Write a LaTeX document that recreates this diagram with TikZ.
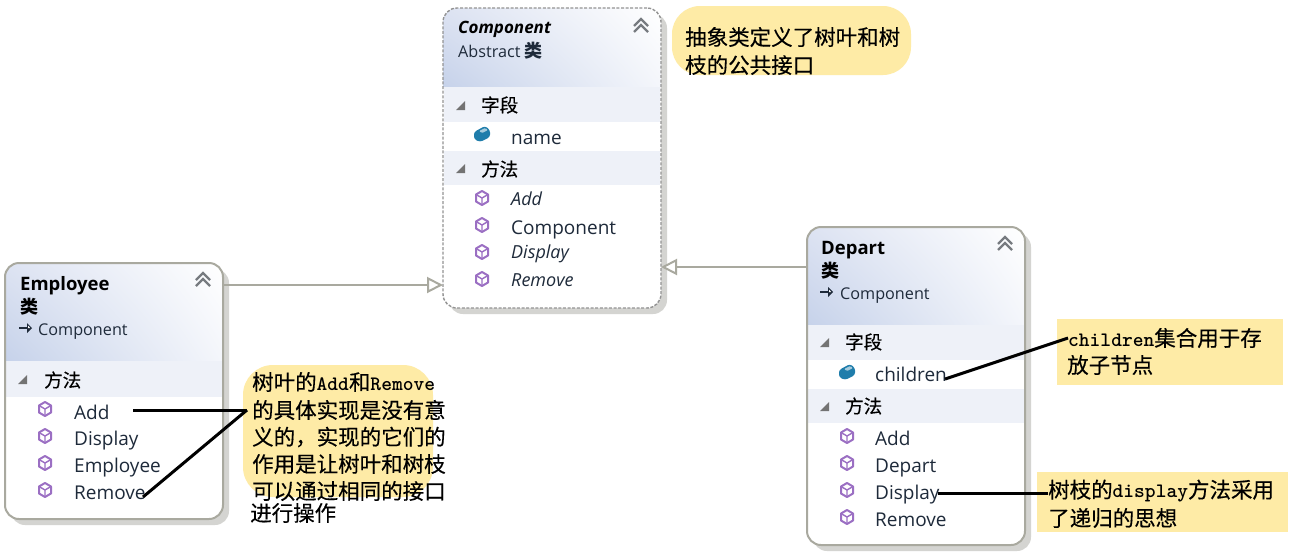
\documentclass[tikz,border=0pt]{standalone}
\usepackage{fontspec}
\setmainfont{Open Sans}
\newfontfamily\cjk{Noto Sans CJK SC}[FakeBold=0.35]
\newfontfamily\cjkm{Noto Sans CJK SC}
\newcommand\monob{\ttfamily\bfseries\fontsize{20.5}{24}\selectfont}
\usetikzlibrary{arrows.meta,calc,shadings}
\definecolor{borderc}{HTML}{A9A99F}
\definecolor{shadowc}{HTML}{D4D4D1}
\definecolor{hdrdark}{HTML}{C6D2EA}
\definecolor{hdrleft}{HTML}{DDE3F2}
\definecolor{hdrright}{HTML}{F4F6FB}
\definecolor{bandc}{HTML}{EEF1F8}
\definecolor{notec}{HTML}{FEEBA6}
\definecolor{textc}{HTML}{1E2A3A}
\definecolor{cubec}{HTML}{9B6FC3}
\definecolor{fieldc}{HTML}{1F7DAB}
\definecolor{chevc}{HTML}{777B80}
\tikzset{
  x=1pt,y=-1pt,
  boxnode/.style={anchor=north west,inner sep=0pt,outer sep=0pt,rounded corners=14pt},
  solidbox/.style={boxnode,draw=borderc,line width=2pt},
  dashbox/.style={boxnode,draw=gray!85,line width=1.4pt,dash pattern=on 3pt off 1.6pt},
  member/.style={anchor=base west,inner sep=0pt,font=\fontsize{19}{20}\selectfont,text=textc},
  imember/.style={member,font=\fontsize{18}{20}\selectfont\itshape},
  title/.style={anchor=base west,inner sep=0pt,font=\fontsize{18.5}{20}\selectfont\bfseries,text=black},
  ititle/.style={anchor=base west,inner sep=0pt,font=\fontsize{17}{20}\selectfont\bfseries\itshape,text=black},
  subtitle/.style={anchor=base west,inner sep=0pt,font=\fontsize{16.2}{18}\selectfont,text=textc},
  kindtxt/.style={anchor=base west,inner sep=0pt,font=\fontsize{18}{18}\selectfont\cjkm\bfseries,text=black},
  section/.style={anchor=west,inner sep=0pt,font=\fontsize{18.5}{20}\selectfont\cjk,text=black},
  notetxt/.style={anchor=west,inner sep=0pt,font=\fontsize{21.5}{24}\selectfont\cjk,text=black},
  inherit/.style={draw=borderc,line width=2.2pt,-{Triangle[open,fill=white,length=16pt,width=16pt,line width=2pt]}},
  pointer/.style={draw=black,line width=3pt},
  noteblob/.style={anchor=north west,inner sep=0pt,outer sep=0pt,fill=notec,rounded corners=28pt},
  noterect/.style={anchor=north west,inner sep=0pt,outer sep=0pt,fill=notec},
}
% #1 x, #2 y, #3 w, #4 h, #5 header bottom
\newcommand\boxback[5]{%
  \fill[shadowc,rounded corners=14pt] (#1+6,#2+6) rectangle (#1+#3+6,#2+#4+6);
  \fill[white,rounded corners=14pt] (#1,#2) rectangle (#1+#3,#2+#4);
  \shade[lower left=hdrdark,lower right=hdrright,upper left=hdrleft,upper right=white]
    (#1,#5) [rounded corners=14pt] -- (#1,#2) -- (#1+#3,#2) [sharp corners] -- (#1+#3,#5) -- cycle;
}
\newcommand\band[4]{\fill[bandc] (#1+1,#3) rectangle (#1+#2-1,#4);}
\newcommand\cubeicon[2]{%
  \begin{scope}[shift={(#1,#2)},draw=cubec,line width=2pt,line join=round]
    \draw (0,-7) -- (6,-3.5) -- (6,3.5) -- (0,7) -- (-6,3.5) -- (-6,-3.5) -- cycle;
    \draw[line width=1.4pt] (-6,-3.5) -- (0,0) -- (6,-3.5) (0,0) -- (0,7);
  \end{scope}}
\newcommand\fieldicon[2]{%
  \begin{scope}[shift={(#1,#2)}]
    \fill[fieldc,rounded corners=2.5pt] (-8,-2) -- (3,-8) -- (8,-4) -- (8,3) -- (-2,8) -- (-8,5) -- cycle;
    \fill[fieldc!40!white,rounded corners=1pt] (-3,-3) -- (3,-6) -- (6,-4) -- (0,-1) -- cycle;
  \end{scope}}
\newcommand\secmark[2]{\fill[gray!90!black] (#1+4,#2-5) -- (#1+4,#2+4) -- (#1-5,#2+4) -- cycle;}
\newcommand\chevrons[2]{%
  \begin{scope}[shift={(#1,#2)},draw=chevc,line width=2.4pt,line join=miter]
    \draw (-7,0) -- (0,-7) -- (7,0);
    \draw (-7,6) -- (0,-1) -- (7,6);
  \end{scope}}
\newcommand\inhmark[2]{%
  \begin{scope}[shift={(#1,#2)}]
    \draw[textc,line width=1.1pt] (-7,0) -- (5,0);
    \fill[textc] (1,-5) -- (6,0) -- (1,5) -- cycle;
    \fill[white] (2,-2.4) -- (4.2,0) -- (2,0) -- cycle;
  \end{scope}}
\begin{document}
\begin{tikzpicture}
\useasboundingbox (0,0) rectangle (1296,552);
\fill[white] (0,0) rectangle (1296,552);
\coordinate (linkE) at (0,285);
\coordinate (linkD) at (0,267);

%% Component
\boxback{443}{8}{218}{300}{87}
\band{443}{218}{87}{122}
\band{443}{218}{151}{185}
\node[dashbox,minimum width=218pt,minimum height=300pt] (component) at (443,8) {};
\node[ititle] (ctitle) at (458,33) {Component};
\node[subtitle] (ckind) at (458,57) {Abstract {\fontsize{18}{18}\selectfont\cjkm\bfseries 类}};
\chevrons{641}{26}
\secmark{461}{106}
\node[section] (cs1) at (481,105) {字段};
\fieldicon{482}{134}
\node[member] (cname) at (511,144) {name};
\secmark{461}{169}
\node[section] (cs2) at (481,169) {方法};
\cubeicon{482}{198}
\node[imember] (cadd) at (511,205) {Add};
\cubeicon{482}{225}
\node[member] (ccomp) at (511,234) {Component};
\cubeicon{482}{252}
\node[imember] (cdisp) at (511,258) {Display};
\cubeicon{482}{279}
\node[imember] (crem) at (511,286) {Remove};

%% Employee
\boxback{5}{263}{218}{256}{361}
\band{5}{218}{361}{397}
\node[solidbox,minimum width=218pt,minimum height=256pt] (employee) at (5,263) {};
\node[title] (etitle) at (20,290) {Employee};
\node[kindtxt] (ekind) at (20,313) {类};
\inhmark{26}{328}
\node[subtitle] (esub) at (38,335) {Component};
\chevrons{203}{280}
\secmark{23}{380}
\node[section] (es1) at (44,380) {方法};
\cubeicon{45}{409}
\node[member] (eadd) at (74,419) {Add};
\cubeicon{45}{436}
\node[member] (edisp) at (74,445) {Display};
\cubeicon{45}{463}
\node[member] (eemp) at (74,472) {Employee};
\cubeicon{45}{490}
\node[member] (erem) at (74,499) {Remove};

%% Depart
\boxback{807}{227}{218}{318}{325}
\band{807}{218}{325}{360}
\band{807}{218}{389}{423}
\node[solidbox,minimum width=218pt,minimum height=318pt] (depart) at (807,227) {};
\node[title] (dtitle) at (821,254) {Depart};
\node[kindtxt] (dkind) at (821,277) {类};
\inhmark{827}{292}
\node[subtitle] (dsub) at (840,299) {Component};
\chevrons{1005}{244}
\secmark{825}{343}
\node[section] (ds1) at (845,342) {字段};
\fieldicon{847}{372}
\node[member] (dchild) at (875,381) {children};
\secmark{825}{407}
\node[section] (ds2) at (845,406) {方法};
\cubeicon{847}{436}
\node[member] (dadd) at (875,445) {Add};
\cubeicon{847}{463}
\node[member] (ddep) at (875,472) {Depart};
\cubeicon{847}{490}
\node[member] (ddisp) at (875,499) {Display};
\cubeicon{847}{517}
\node[member] (drem) at (875,526) {Remove};

%% Inheritance
\draw[inherit] (employee.east |- linkE) -- (component.west |- linkE);
\draw[inherit] (depart.west |- linkD) -- (component.east |- linkD);

%% Notes
\node[noteblob,minimum width=239pt,minimum height=69pt] (noteabs) at (672,6) {};
\begin{scope}
  \clip (660,0) rectangle (925,75);
  \node[notetxt] (na1) at (685,37) {抽象类定义了树叶和树};
  \node[notetxt] (na2) at (685,65) {枝的公共接口};
\end{scope}

\node[noteblob,rounded corners=30pt,minimum width=190pt,minimum height=132pt] (noteleaf) at (243,365) {};
\node[notetxt] (nl1) at (252,382) {树叶的{\monob Add}和{\monob Remove}};
\node[notetxt] (nl2) at (252,410) {的具体实现是没有意};
\node[notetxt] (nl3) at (252,437) {义的，实现的它们的};
\node[notetxt] (nl4) at (252,464) {作用是让树叶和树枝};
\node[notetxt] (nl5) at (252,491) {可以通过相同的接口};
\node[notetxt] (nl6) at (250,513) {进行操作};

\node[noterect,minimum width=226pt,minimum height=66pt] (notechild) at (1057,319) {};
\node[notetxt] (nc1) at (1068,338) {{\monob children}集合用于存};
\node[notetxt] (nc2) at (1067,365) {放子节点};

\node[noterect,minimum width=251pt,minimum height=60pt] (notedisp) at (1037,472) {};
\node[notetxt] (nd1) at (1048,491) {树枝的{\monob display}方法采用};
\node[notetxt] (nd2) at (1048,518) {了递归的思想};

%% Pointers
\coordinate (leafin) at (247,410);
\coordinate (addout) at (133,410);
\coordinate (remout) at (143,497);
\coordinate (childout) at (945,379);
\coordinate (dispout) at (938,493);
\draw[pointer] (addout) -- (leafin);
\draw[pointer] (remout) -- (leafin);
\draw[pointer] (childout) -- (nc1.west);
\draw[pointer] (dispout) -- (nd1.west |- dispout);
\end{tikzpicture}
\end{document}
